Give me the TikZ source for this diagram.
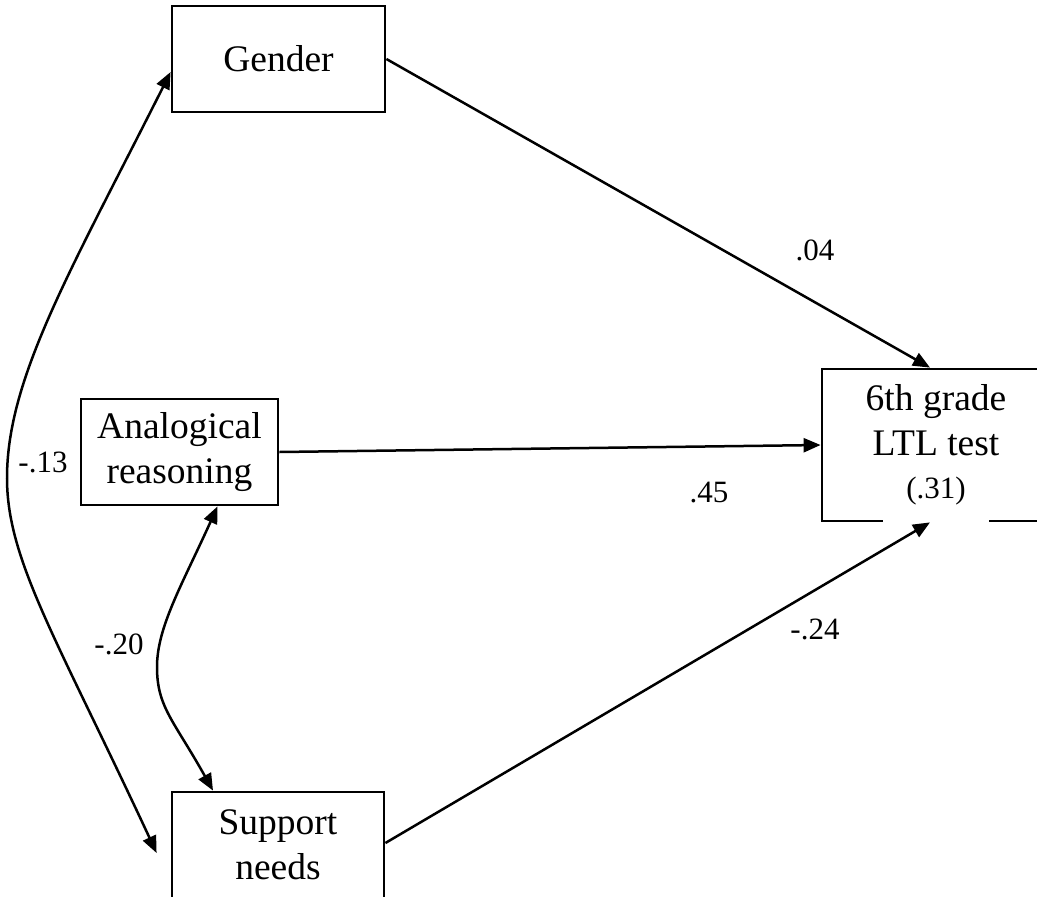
\documentclass[tikz,border=0pt]{standalone}
\usepackage{fontspec}
\setmainfont{Liberation Serif}
\usetikzlibrary{arrows.meta}
\begin{document}
\begin{tikzpicture}[x=1pt,y=-1pt,
  var/.style={draw,line width=2.8pt,inner sep=0pt,align=center,
    font=\fontsize{37.5}{45}\selectfont},
  coef/.style={anchor=base,inner sep=0pt,font=\fontsize{31}{36}\selectfont},
  tip/.tip={Triangle[length=17pt,width=14pt]},
  path/.style={line width=2.5pt,-tip},
  cov/.style={line width=2.5pt,tip-tip}]
\useasboundingbox (0,0) rectangle (1037,897);
\clip (0,0) rectangle (1037,897);

% observed variables
\node[var,minimum width=213pt,minimum height=106pt] (g) at (278.5,59) {Gender};
\node[var,minimum width=197pt,minimum height=106pt] (a) at (179.5,452) {Analogical\\reasoning};
\node[var,minimum width=212pt,minimum height=106pt] (s) at (278,845) {Support\\needs};
\node[var,minimum width=228pt,minimum height=152pt] (t) at (936,445)
  {6th grade\\LTL test\\[-2pt]{\fontsize{31}{36}\selectfont(.31)}};
% open stretch of the outcome box's lower edge
\draw[white,line width=4pt] (883,521) -- (989,521);

% regression paths
\draw[path] (g.east) -- ([xshift=-6pt]t.north);
\draw[path] (a.east) -- (t.west);
\draw[path] ([yshift=2pt]s.east) -- ([xshift=-6pt]t.south);

% covariances
\coordinate (sw) at ([xshift=-14pt,yshift=-8pt]s.west);
\coordinate (apex1) at (7,478);
\coordinate (apex2) at (157,667);
\draw[cov] ([yshift=-13pt]g.west) .. controls (70,272) and (7,378) .. (apex1)
  .. controls (7,560) and (56,637) .. (sw);
\draw[cov] ([xshift=38pt]a.south) .. controls (182,585) and (157,627) .. (apex2)
  .. controls (157,707) and (173.5,720) .. ([xshift=-65pt]s.north);

% coefficients
\node[coef] (c1) at (815,260) {.04};
\node[coef] (c2) at (709,502) {.45};
\node[coef] (c3) at (815,639) {-.24};
\node[coef] (c4) at (43,472) {-.13};
\node[coef] (c5) at (119,654) {-.20};
\end{tikzpicture}
\end{document}
